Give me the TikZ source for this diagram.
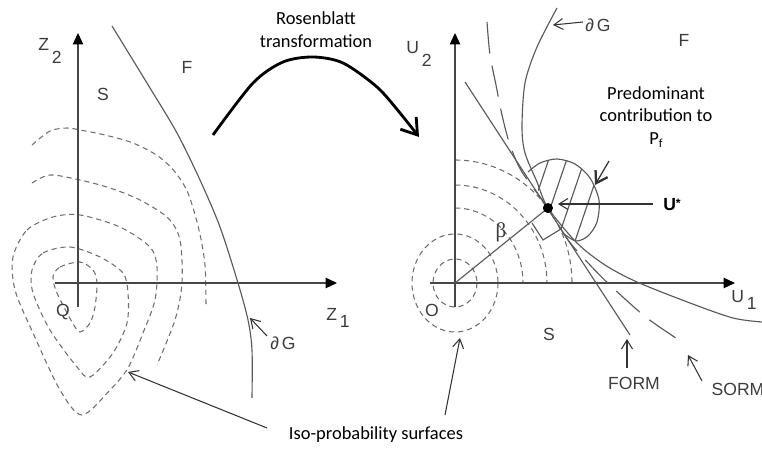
\documentclass[tikz,border=0pt]{standalone}
\usepackage{fontspec}
\setmainfont{Carlito}
\newfontfamily\arialfont{Liberation Sans}
\newfontfamily\timesfont{Liberation Serif}
\usetikzlibrary{arrows.meta, calc}
\definecolor{axisgray}{RGB}{70,70,70}
\definecolor{curvegray}{RGB}{90,90,90}
\definecolor{dashgray}{RGB}{110,110,110}
\definecolor{lblgray}{RGB}{60,60,60}
\tikzset{
    % axes and labels
    axisline/.style={draw=axisgray, line width=0.7pt,
                -{Triangle[length=2.3mm,width=2.1mm,color=black]}},
    lbl/.style={font=\arialfont\fontsize{10}{12}\selectfont, text=lblgray, inner sep=0pt},
    note/.style={font=\fontsize{10.5}{12.8}\selectfont, align=center, inner sep=0pt},
    % curves
    isoline/.style={draw=dashgray, line width=0.6pt, dash pattern=on 3pt off 2.2pt},
    limitline/.style={draw=curvegray, line width=0.65pt},
    sormline/.style={draw=curvegray, line width=0.65pt, dash pattern=on 18pt off 7pt},
    % pointers
    ptr/.style={draw=black!80, line width=0.6pt, -{Straight Barb[length=1.8mm,width=2.2mm]}},
    bigptr/.style={draw=black!80, line width=0.7pt,
                -{Straight Barb[length=2.2mm,width=2.8mm,line width=1.3pt]}},
    transarrow/.style={draw=black, line width=1.6pt, -{Straight Barb[length=3mm,width=4mm]}},
    udot/.style={circle, fill=black, inner sep=0pt, minimum size=2mm},
}
\begin{document}
\begin{tikzpicture}[x=0.02cm, y=-0.02cm]
\useasboundingbox (0,0) rectangle (762,452);

% ---- left panel (Z space)
\draw[isoline] plot[smooth] coordinates {(32,145) (50,131) (67,128) (80,130) (105,135) (133,143)
    (158,156) (175,172) (188,193) (199,230) (205,265) (206,307)};
\draw[isoline] plot[smooth] coordinates {(32,183) (50,175) (80,180) (110,188) (140,200)
    (168,218) (180,240) (182,283) (175,320) (157,365)};
\draw[isoline] plot[smooth cycle] coordinates {(13,257) (27,230) (53,217) (80,215) (120,227)
    (150,247) (157,267) (155,300) (143,333) (128,368) (110,390) (82,415) (60,390) (33,333) (15,290)};
\draw[isoline] plot[smooth cycle] coordinates {(32,270) (43,253) (70,247) (100,257) (123,273)
    (128,293) (127,323) (113,353) (90,377) (77,367) (50,330) (33,293)};
\draw[isoline] plot[smooth cycle] coordinates {(53,277) (60,267) (80,262) (93,270) (97,283)
    (95,307) (90,323) (80,332) (72,322) (57,293)};

\coordinate (zbot) at (78,307);
\coordinate (ztop) at (78,33);
\coordinate (zleft) at (55,283);
\coordinate (zright) at (337,283);
\draw[axisline] (zbot) -- (ztop);
\draw[axisline] (zleft) -- (zright);

\draw[limitline] plot[smooth] coordinates {(112,26) (150,88) (177,133) (200,180) (220,227)
    (238,283) (248,320) (252,350) (252,398)};

\node[lbl] (zlab2) at (50,51) {Z\hspace{1.5pt}\raisebox{-7pt}{2}};
\node[lbl] (zlab1) at (338,318) {Z\hspace{1.5pt}\raisebox{-4.5pt}{1}};
\node[lbl] (sleft) at (103,94) {S};
\node[lbl] (fleft) at (187,67) {F};
\node[lbl] (oleft) at (63,312) {Q};
\node[lbl] (dgleft) at (283,343) {∂\,G};
\coordinate (dgltail) at (267,336);
\coordinate (dglhead) at (250,318);
\draw[ptr] (dgltail) -- (dglhead);

% ---- transformation arrow
\node[note, font=\fontsize{10.5}{13}\selectfont] (rosen) at (316,30) {Rosenblatt\\transformation};
\draw[transarrow] plot[smooth] coordinates {(213,135) (253,83) (283,62) (313,57) (343,63)
    (377,87) (400,113) (419,137)};

% ---- right panel (U space)
\coordinate (uorig) at (455,283);
\draw[isoline] (uorig) ellipse[x radius=22, y radius=24];
\draw[isoline] (uorig) ellipse[x radius=43, y radius=49];
\foreach \rx/\ry in {68/75, 92/98, 117/123}
    \draw[isoline] ($(uorig)+(0,-\ry)$) arc[start angle=-90, end angle=0, x radius=\rx, y radius=\ry];

\coordinate (ubot) at (455,307);
\coordinate (utop) at (455,33);
\coordinate (uleft) at (430,283);
\coordinate (uright) at (735,283);
\draw[axisline] (ubot) -- (utop);
\draw[axisline] (uleft) -- (uright);

\node[udot] (ustar) at (548,208) {};

% hatched region
\path[fill=white] plot[smooth] coordinates {(528,172) (540,163) (557,159) (575,164) (590,178)
    (599,200) (597,222) (588,236) (576,241) (564,234)} -- (548,208) -- cycle;
\begin{scope}
\clip plot[smooth] coordinates {(528,172) (540,163) (557,159) (575,164) (590,178)
    (599,200) (597,222) (588,236) (576,241) (564,234)} -- (548,208) -- cycle;
\foreach \hx in {535,553,571,589,606}
    \draw[limitline] (\hx,200) ++(17,-50) -- ++(-34,100);
\end{scope}
\draw[limitline] plot[smooth] coordinates {(528,172) (540,163) (557,159) (575,164) (590,178)
    (599,200) (597,222) (588,236) (576,241) (564,234)};

\coordinate (formtop) at (465,82);
\coordinate (formbot) at (630,335);
\draw[limitline] (formtop) -- (formbot);
\draw[sormline] plot[smooth] coordinates {(487,22) (490,55) (496,85) (502,115) (510,145)
    (522,172) (548,208) (568,240) (590,265) (613,288) (647,318) (682,342)};
\draw[limitline] plot[smooth] coordinates {(557,8) (537,47) (525,83) (522,127) (525,153)
    (537,182) (548,208) (577,243) (605,265) (637,282) (690,303) (733,318) (762,322)};

\coordinate (sqa) at (532,223);
\coordinate (sqb) at (543,240);
\coordinate (sqc) at (561,229);
\draw[limitline] (uorig) -- (ustar.center);
\draw[limitline] (sqa) -- (sqb) -- (sqc);
\node[udot] at (ustar) {};

\node[lbl] (ulab2) at (419,54) {U\hspace{1.5pt}\raisebox{-7pt}{2}};
\node[lbl] (ulab1) at (744,300) {U\hspace{1.5pt}\raisebox{-4.5pt}{1}};
\node[lbl] (oright) at (432,310) {O};
\node[lbl] (sright) at (549,334) {S};
\node[lbl] (fright) at (684,40) {F};
\node[lbl] (dgright) at (598,25) {∂\,G};
\node[inner sep=0pt, text=lblgray, font=\timesfont\fontsize{12}{14}\selectfont] (beta) at (501,232) {β};
\node[lbl, text=black, font=\arialfont\bfseries\fontsize{10}{12}\selectfont] (ulabstar) at (672,205)
    {U\raisebox{2pt}{\fontsize{7}{7}\selectfont *}};
\node[lbl] (formlab) at (634,383) {FORM};
\node[lbl] (sormlab) at (738,389) {SORM};
\node[note] (pfnote) at (656,117) {Predominant\\contribution to\\P\raisebox{-0.4ex}{\scriptsize f}};

\coordinate (dgrtail) at (583,22);
\coordinate (dgrhead) at (553,25);
\draw[ptr] (dgrtail) -- (dgrhead);
\coordinate (ustail) at (653,204);
\coordinate (ushead) at (558,204);
\draw[ptr] (ustail) -- (ushead);
\coordinate (blobtail) at (609,161);
\coordinate (blobhead) at (595,185);
\draw[bigptr] (blobtail) -- (blobhead);
\coordinate (formtail) at (627,368);
\coordinate (formhead) at (627,339);
\draw[ptr] (formtail) -- (formhead);
\coordinate (sormtail) at (702,381);
\coordinate (sormhead) at (688,355);
\draw[ptr] (sormtail) -- (sormhead);

% ---- iso-probability note
\node[note] (isonote) at (376,435) {Iso-probability surfaces};
\coordinate (isoltail) at (267,428);
\coordinate (isolhead) at (128,372);
\coordinate (isortail) at (445,415);
\coordinate (isorhead) at (460,338);
\draw[ptr] (isoltail) -- (isolhead);
\draw[ptr] (isortail) -- (isorhead);
\end{tikzpicture}
\end{document}
